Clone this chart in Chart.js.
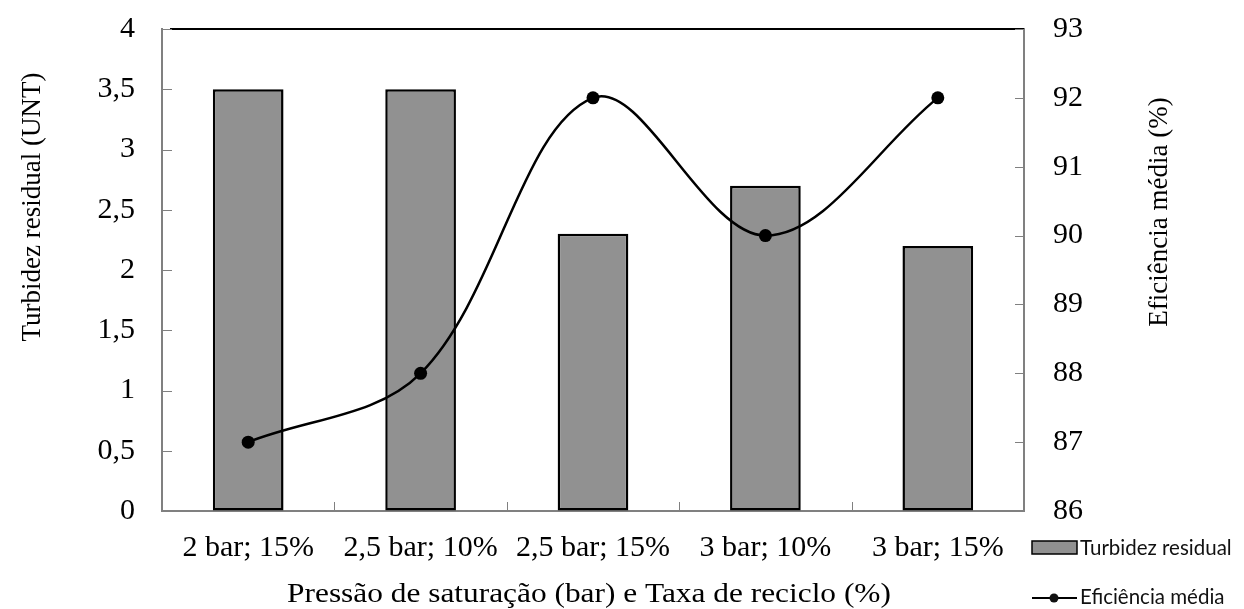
<!DOCTYPE html>
<html>
<head>
<meta charset="utf-8">
<script src="https://cdn.jsdelivr.net/npm/chart.js@4/dist/chart.umd.min.js"></script>
<style>
  html, body { margin: 0; padding: 0; background: #fff; }
  #wrap { width: 1244px; height: 609px; position: relative; }
</style>
</head>
<body>
<div id="wrap"><canvas id="c" width="1244" height="609"></canvas></div>
<script>
// Categories: saturation pressure and recycle rate
const categories = ['2 bar; 15%', '2,5 bar; 10%', '2,5 bar; 15%', '3 bar; 10%', '3 bar; 15%'];
// Residual turbidity (UNT), left axis
const turbidez = [3.5, 3.5, 2.3, 2.7, 2.2];
// Mean efficiency (%), right axis
const eficiencia = [87, 88, 92, 90, 92];
// Axis ranges and steps
const leftTicks = { min: 0, max: 4, step: 0.5 };
const rightTicks = { min: 86, max: 93, step: 1 };
// Axis titles
const titleLeft = 'Turbidez residual (UNT)';
const titleRight = 'Eficiência média (%)';
const titleX = 'Pressão de saturação (bar) e Taxa de reciclo (%)';

const SERIF = '"Liberation Serif", "Times New Roman", serif';
const AXIS_GRAY = '#808080';
const BAR_FILL = '#919191';
const TICK_SIZE = 30;

const comma = v => String(v).replace('.', ',');

// fixed axis box sizes, no extra label overflow padding
const fixWidth = w => s => { s.width = w; s.paddingTop = 0; s.paddingBottom = 0; };
const fixHeight = h => s => { s.height = h; s.paddingLeft = 0; s.paddingRight = 0; };

// Inward tick marks, top frame line, axis titles and legend
const decorations = {
  id: 'decorations',
  afterDraw(chart) {
    const ctx = chart.ctx;
    const a = chart.chartArea;
    const sy = chart.scales.y, sy1 = chart.scales.y1, sx = chart.scales.x;
    ctx.save();
    // top frame line
    ctx.strokeStyle = '#000';
    ctx.lineWidth = 2;
    ctx.beginPath();
    ctx.moveTo(a.left + 8, a.top);
    ctx.lineTo(a.right, a.top);
    ctx.stroke();
    // inward ticks
    ctx.strokeStyle = AXIS_GRAY;
    ctx.lineWidth = 1;
    ctx.beginPath();
    sy.ticks.forEach((t, i) => {
      const p = Math.round(sy.getPixelForTick(i)) + 0.5;
      ctx.moveTo(a.left, p); ctx.lineTo(a.left + 10, p);
    });
    sy1.ticks.forEach((t, i) => {
      const p = Math.round(sy1.getPixelForTick(i)) + 0.5;
      ctx.moveTo(a.right, p); ctx.lineTo(a.right - 9, p);
    });
    for (let i = 1; i < categories.length; i++) {
      const p = Math.round((sx.getPixelForValue(i - 1) + sx.getPixelForValue(i)) / 2) + 0.5;
      ctx.moveTo(p, a.bottom); ctx.lineTo(p, a.bottom - 9);
    }
    ctx.stroke();

    // axis titles
    ctx.fillStyle = '#000';
    ctx.font = '27px ' + SERIF;
    ctx.textAlign = 'center';
    ctx.textBaseline = 'middle';
    ctx.save();
    ctx.translate(33, 207);
    ctx.rotate(-Math.PI / 2);
    ctx.fillText(titleLeft, 0, 0);
    ctx.restore();
    ctx.save();
    ctx.translate(1160, 212);
    ctx.rotate(-Math.PI / 2);
    ctx.fillText(titleRight, 0, 0);
    ctx.restore();
    ctx.font = '28px ' + SERIF;
    ctx.save();
    ctx.translate(589, 595);
    ctx.scale(1.12, 1);
    ctx.fillText(titleX, 0, 0);
    ctx.restore();

    // legend
    const ds = chart.data.datasets;
    const bar = ds.find(d => d.type === 'bar');
    const line = ds.find(d => d.type === 'line');
    ctx.font = '20.5px Lato, "Open Sans", sans-serif';
    ctx.textAlign = 'left';
    ctx.fillStyle = BAR_FILL;
    ctx.fillRect(1032, 541, 45, 13);
    ctx.strokeStyle = '#000';
    ctx.lineWidth = 1.5;
    ctx.strokeRect(1032, 541, 45, 13);
    ctx.fillStyle = '#111';
    ctx.fillText(bar.label, 1080, 548);
    ctx.lineWidth = 2;
    ctx.beginPath();
    ctx.moveTo(1032, 598); ctx.lineTo(1077, 598);
    ctx.stroke();
    ctx.beginPath();
    ctx.arc(1054, 598, 4.5, 0, Math.PI * 2);
    ctx.fill();
    ctx.fillText(line.label, 1080, 597);
    ctx.restore();
  }
};

new Chart(document.getElementById('c'), {
  data: {
    labels: categories,
    datasets: [
      {
        type: 'line',
        label: 'Eficiência média',
        data: eficiencia,
        yAxisID: 'y1',
        order: 0,
        borderColor: '#000',
        backgroundColor: '#000',
        borderWidth: 2.5,
        pointRadius: 6.5,
        pointBackgroundColor: '#000',
        pointBorderWidth: 0,
        tension: 0.35,
        fill: false
      },
      {
        type: 'bar',
        label: 'Turbidez residual',
        data: turbidez,
        yAxisID: 'y',
        order: 1,
        backgroundColor: BAR_FILL,
        borderColor: '#000',
        borderWidth: 2.5,
        borderSkipped: false,
        categoryPercentage: 1,
        barPercentage: 0.41
      }
    ]
  },
  options: {
    responsive: false,
    animation: false,
    events: [],
    layout: { padding: { top: 29, left: 0, right: 0, bottom: 0 } },
    plugins: { legend: { display: false }, tooltip: { enabled: false } },
    scales: {
      x: {
        offset: true,
        afterFit: fixHeight(98),
        grid: { display: true, drawOnChartArea: false, drawTicks: false, color: 'rgba(0,0,0,0)' },
        border: { display: true, color: AXIS_GRAY, width: 2 },
        ticks: { color: '#000', font: { family: SERIF, size: TICK_SIZE }, padding: 19, maxRotation: 0, autoSkip: false }
      },
      y: {
        position: 'left',
        min: leftTicks.min, max: leftTicks.max,
        afterFit: fixWidth(162),
        grid: { display: true, drawOnChartArea: false, drawTicks: false, color: 'rgba(0,0,0,0)' },
        border: { display: true, color: AXIS_GRAY, width: 2 },
        ticks: { stepSize: leftTicks.step, color: '#000', font: { family: SERIF, size: TICK_SIZE }, padding: 27, callback: v => comma(v) }
      },
      y1: {
        position: 'right',
        min: rightTicks.min, max: rightTicks.max,
        afterFit: fixWidth(220),
        grid: { display: true, drawOnChartArea: false, drawTicks: false, color: 'rgba(0,0,0,0)' },
        border: { display: true, color: AXIS_GRAY, width: 2 },
        ticks: { stepSize: rightTicks.step, color: '#000', font: { family: SERIF, size: TICK_SIZE }, padding: 29, callback: v => comma(v) }
      }
    }
  },
  plugins: [decorations]
});
</script>
</body>
</html>
